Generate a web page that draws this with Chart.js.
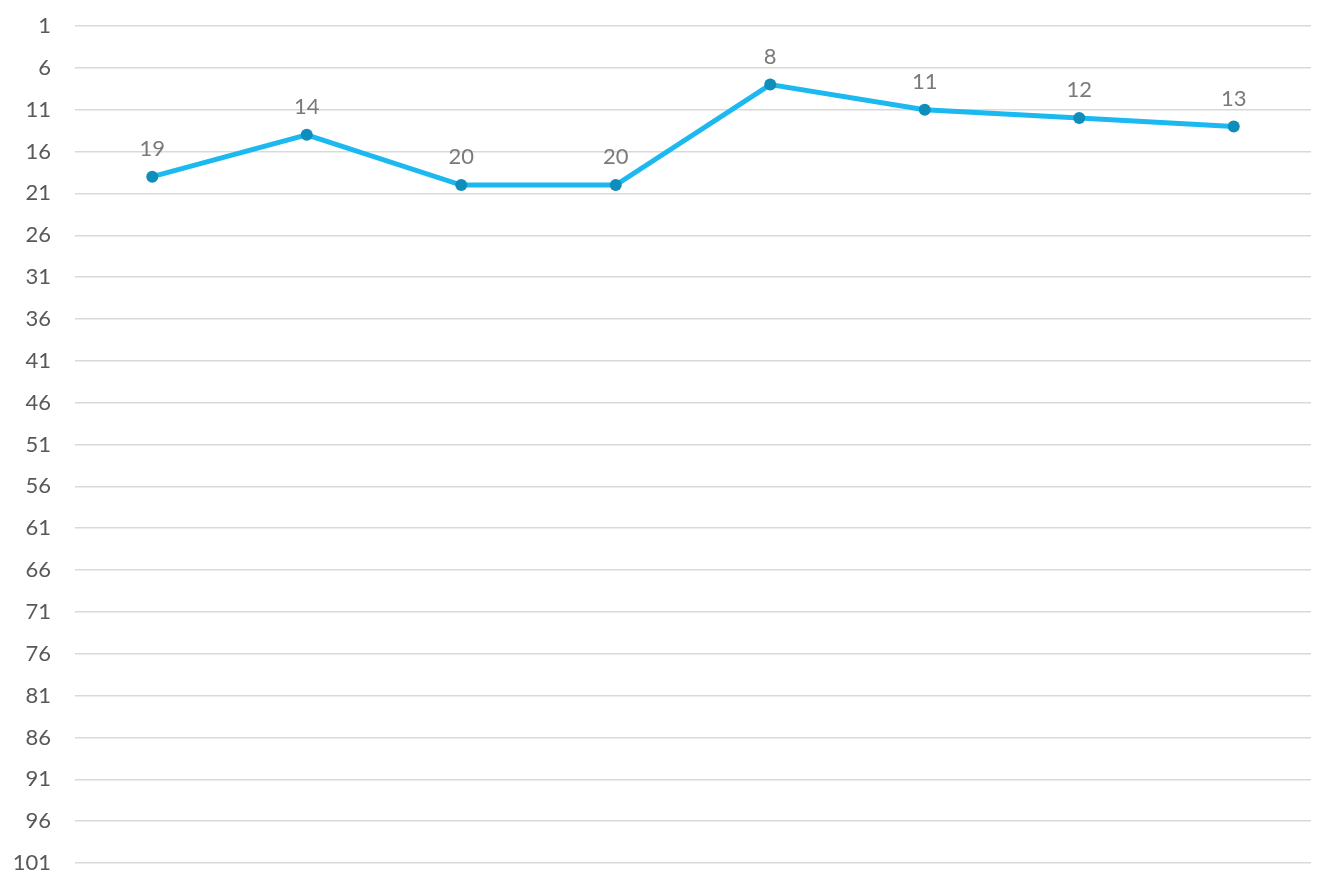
<!DOCTYPE html>
<html>
<head>
<meta charset="utf-8">
<script src="https://cdn.jsdelivr.net/npm/chart.js@4/dist/chart.umd.min.js"></script>
<style>
html,body{margin:0;padding:0;background:#fff;}
#wrap{width:1334px;height:889px;}
</style>
</head>
<body>
<div id="wrap"><canvas id="c" width="1334" height="889"></canvas></div>
<script>
const categories = ["1","2","3","4","5","6","7","8"];
const rankValues = [19, 14, 20, 20, 8, 11, 12, 13];
const yMin = 1, yMax = 101, yStep = 5;

const labelPlugin = {
  id: 'pointLabels',
  afterDatasetsDraw(chart) {
    const ctx = chart.ctx;
    const meta = chart.getDatasetMeta(0);
    ctx.save();
    ctx.font = '22px Lato, "Open Sans", sans-serif';
    ctx.fillStyle = '#7a7a7a';
    ctx.textAlign = 'center';
    ctx.textBaseline = 'middle';
    meta.data.forEach((pt, i) => {
      ctx.fillText(String(rankValues[i]), pt.x, pt.y - 28);
    });
    ctx.restore();
  }
};

new Chart(document.getElementById('c'), {
  type: 'line',
  data: {
    labels: categories,
    datasets: [{
      data: rankValues,
      borderColor: '#1bb9ef',
      borderWidth: 5,
      pointBackgroundColor: '#0f8dbb',
      pointBorderColor: '#0f8dbb',
      pointRadius: 6,
      pointBorderWidth: 0,
      tension: 0,
      fill: false
    }]
  },
  options: {
    responsive: false,
    animation: false,
    layout: { padding: { left: 0, right: 23, top: 26, bottom: 26 } },
    plugins: { legend: { display: false }, tooltip: { enabled: false } },
    scales: {
      x: {
        display: false,
        offset: true
      },
      y: {
        reverse: true,
        min: yMin,
        max: yMax,
        afterFit(scale) {
          scale.width = 75;
          scale.paddingTop = 0;
          scale.paddingBottom = 0;
        },
        afterBuildTicks(scale) {
          const t = [];
          for (let v = yMin; v <= yMax; v += yStep) t.push({ value: v });
          scale.ticks = t;
        },
        border: { display: false },
        grid: { color: '#d9d9d9', lineWidth: 1.5, drawTicks: false },
        ticks: {
          color: '#595959',
          font: { family: 'Lato, "Open Sans", sans-serif', size: 22 },
          padding: 24
        }
      }
    }
  },
  plugins: [labelPlugin]
});
</script>
</body>
</html>
